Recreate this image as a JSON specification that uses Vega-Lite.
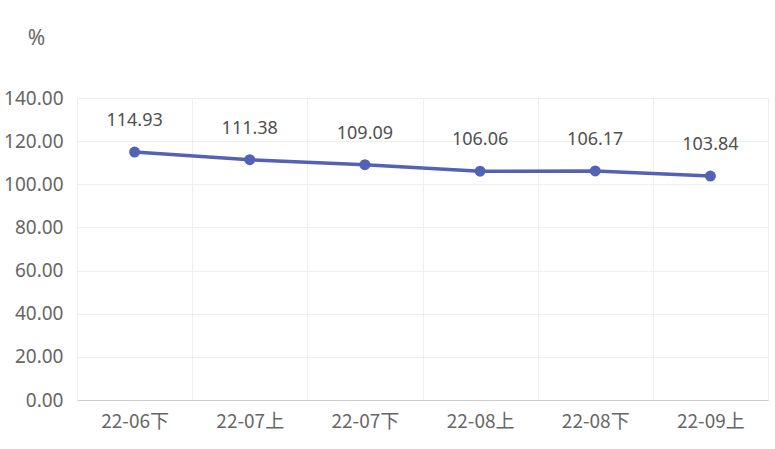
{
  "$schema": "https://vega.github.io/schema/vega-lite/v6.json",
  "width": 691,
  "height": 302,
  "autosize": {"type": "none"},
  "padding": {"left": 77, "top": 98, "right": 7, "bottom": 49},
  "background": "#ffffff",
  "config": {
    "view": {"stroke": null},
    "font": "Noto Sans"
  },
  "data": {
    "values": [
      {"period": "22-06下", "value": 114.93},
      {"period": "22-07上", "value": 111.38},
      {"period": "22-07下", "value": 109.09},
      {"period": "22-08上", "value": 106.06},
      {"period": "22-08下", "value": 106.17},
      {"period": "22-09上", "value": 103.84}
    ]
  },
  "encoding": {
    "x": {
      "field": "period",
      "type": "ordinal",
      "sort": null,
      "bandPosition": 0.5,
      "scale": {"type": "band", "paddingInner": 0, "paddingOuter": 0},
      "axis": {
        "title": null,
        "labelAngle": 0,
        "labelFont": "Noto Sans CJK SC",
        "labelFontSize": 19,
        "labelColor": "#666666",
        "labelPadding": 12,
        "ticks": false,
        "tickBand": "extent",
        "domainColor": "#cccccc",
        "grid": true,
        "gridColor": "#eeeeee",
        "gridWidth": 1
      }
    },
    "y": {
      "field": "value",
      "type": "quantitative",
      "scale": {"domain": [0, 140], "nice": false},
      "axis": {
        "title": "%",
        "titleAngle": 0,
        "titleX": -41,
        "titleY": -60,
        "titleAlign": "center",
        "titleBaseline": "middle",
        "titleFontSize": 21,
        "titleFontWeight": "normal",
        "titleColor": "#666666",
        "values": [0, 20, 40, 60, 80, 100, 120, 140],
        "format": ".2f",
        "labelFontSize": 19,
        "labelColor": "#666666",
        "labelPadding": 14,
        "ticks": false,
        "domain": false,
        "grid": true,
        "gridColor": "#eeeeee",
        "gridWidth": 1
      }
    }
  },
  "layer": [
    {
      "mark": {"type": "line", "color": "#5361b6", "strokeWidth": 3.5}
    },
    {
      "mark": {"type": "point", "filled": true, "color": "#5361b6", "size": 120, "opacity": 1}
    },
    {
      "mark": {"type": "text", "dy": -31, "fontSize": 18, "color": "#505050"},
      "encoding": {"text": {"field": "value", "type": "quantitative", "format": ".2f"}}
    }
  ]
}
